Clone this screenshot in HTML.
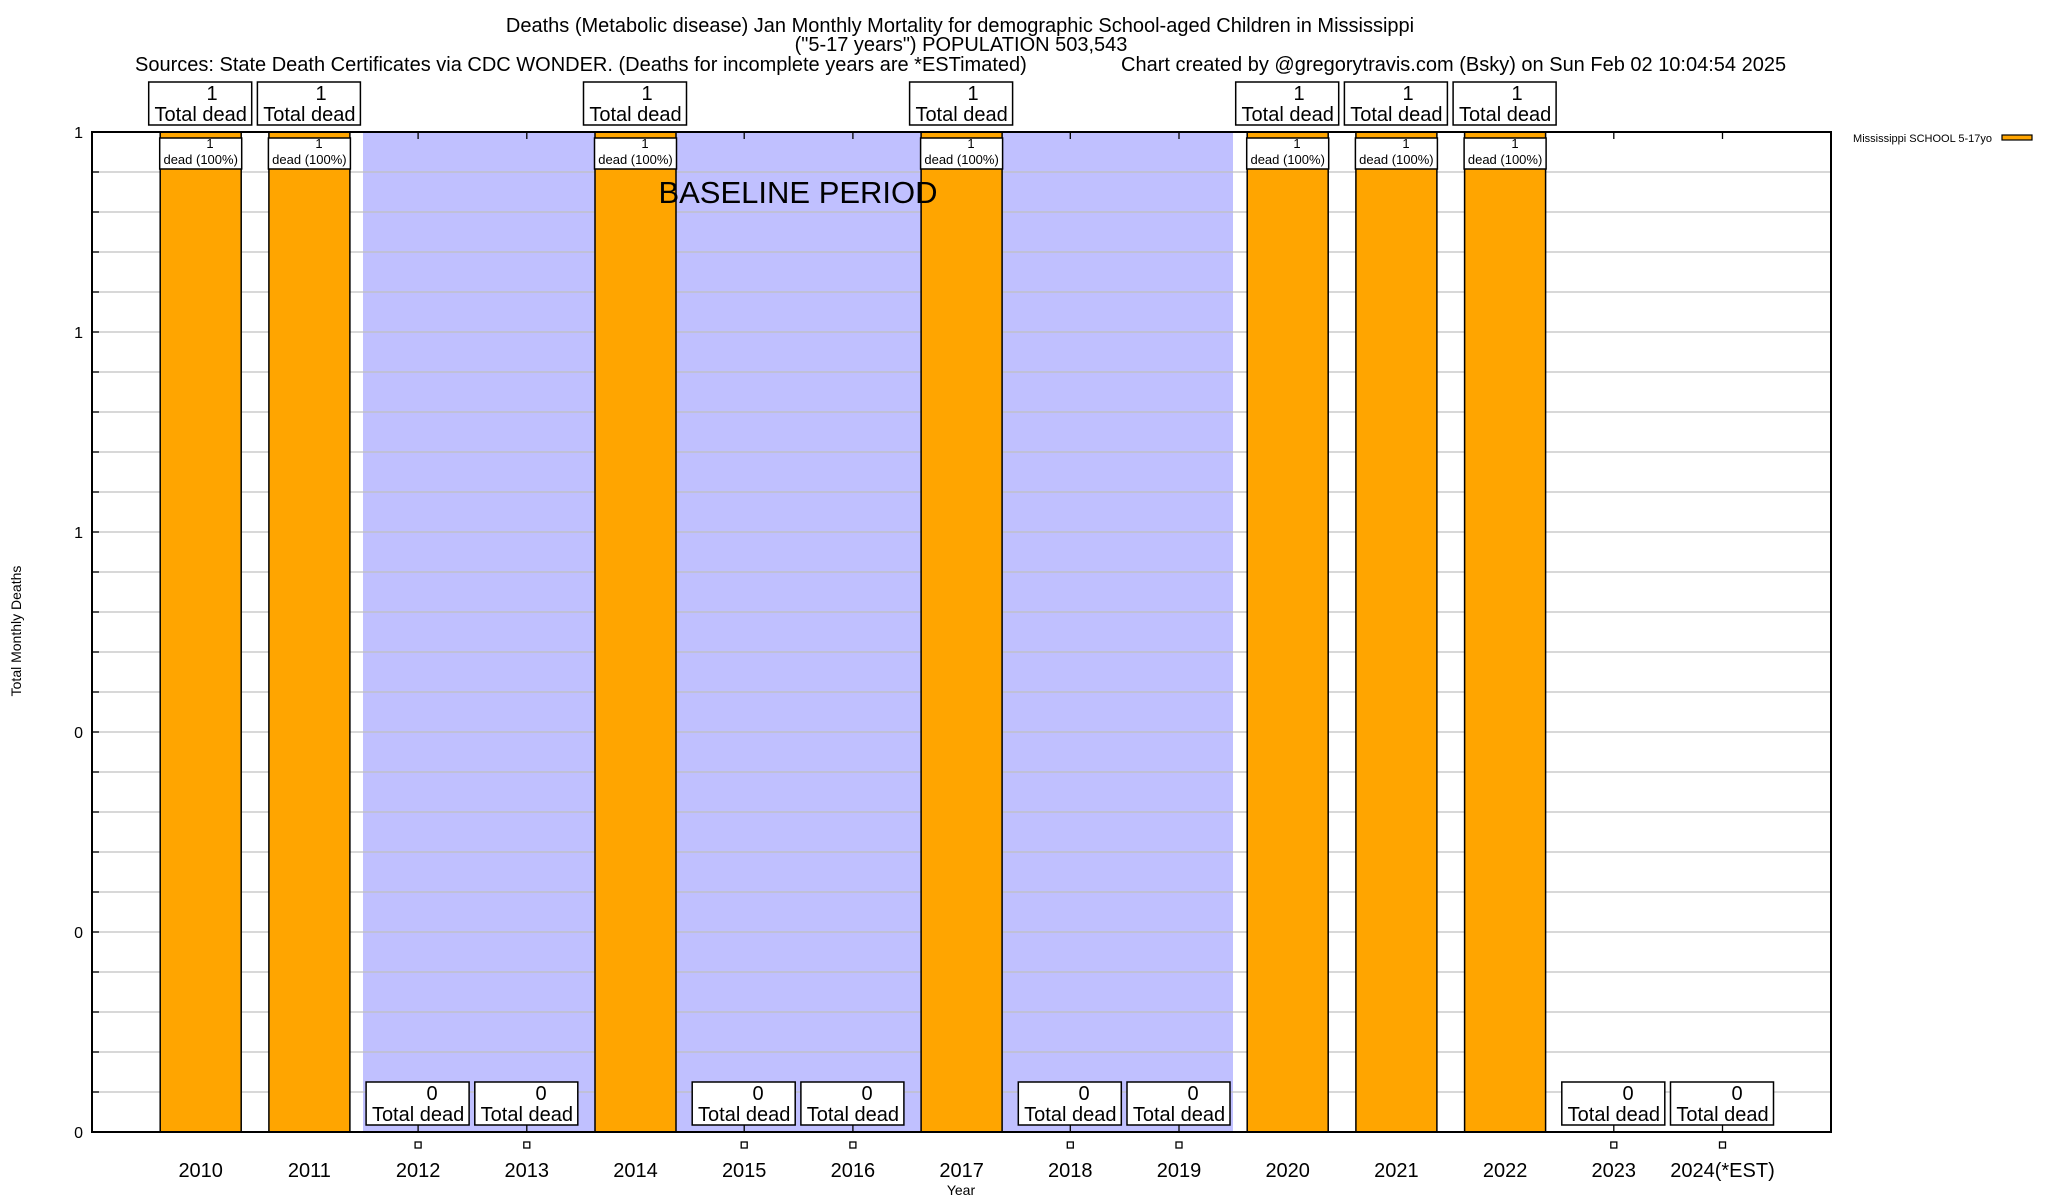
<!DOCTYPE html>
<html><head><meta charset="utf-8"><style>
html,body{margin:0;padding:0;background:#fff;}
svg{display:block;font-family:"Liberation Sans",Arial,sans-serif;}
</style></head><body>
<svg width="2048" height="1200" viewBox="0 0 2048 1200" xmlns="http://www.w3.org/2000/svg">
<rect width="2048" height="1200" fill="#fff"/>
<!-- titles -->
<text x="960" y="32" font-size="20" text-anchor="middle">Deaths (Metabolic disease) Jan Monthly Mortality for demographic School-aged Children in Mississippi</text>
<text x="961" y="51" font-size="20" text-anchor="middle">("5-17 years") POPULATION 503,543</text>
<text x="135" y="71" font-size="20">Sources: State Death Certificates via CDC WONDER. (Deaths for incomplete years are *ESTimated)</text>
<text x="1121" y="71" font-size="20">Chart created by @gregorytravis.com (Bsky) on Sun Feb 02 10:04:54 2025</text>
<!-- blue baseline regions -->
<rect x="363" y="132" width="232" height="1000" fill="#c0c0ff"/>
<rect x="676" y="132" width="245" height="1000" fill="#c0c0ff"/>
<rect x="1002" y="132" width="231" height="1000" fill="#c0c0ff"/>
<!-- gridlines -->
<g stroke="#c0c0c0" stroke-width="1.3">
<line x1="92" x2="1831" y1="172" y2="172"/><line x1="92" x2="1831" y1="212" y2="212"/><line x1="92" x2="1831" y1="252" y2="252"/><line x1="92" x2="1831" y1="292" y2="292"/><line x1="92" x2="1831" y1="332" y2="332"/><line x1="92" x2="1831" y1="372" y2="372"/><line x1="92" x2="1831" y1="412" y2="412"/><line x1="92" x2="1831" y1="452" y2="452"/><line x1="92" x2="1831" y1="492" y2="492"/><line x1="92" x2="1831" y1="532" y2="532"/><line x1="92" x2="1831" y1="572" y2="572"/><line x1="92" x2="1831" y1="612" y2="612"/><line x1="92" x2="1831" y1="652" y2="652"/><line x1="92" x2="1831" y1="692" y2="692"/><line x1="92" x2="1831" y1="732" y2="732"/><line x1="92" x2="1831" y1="772" y2="772"/><line x1="92" x2="1831" y1="812" y2="812"/><line x1="92" x2="1831" y1="852" y2="852"/><line x1="92" x2="1831" y1="892" y2="892"/><line x1="92" x2="1831" y1="932" y2="932"/><line x1="92" x2="1831" y1="972" y2="972"/><line x1="92" x2="1831" y1="1012" y2="1012"/><line x1="92" x2="1831" y1="1052" y2="1052"/><line x1="92" x2="1831" y1="1092" y2="1092"/>
</g>
<!-- bars -->
<g fill="#ffa500" stroke="#000" stroke-width="1.5">
<rect x="160.2" y="132" width="81" height="1000"/>
<rect x="268.9" y="132" width="81" height="1000"/>
<rect x="595" y="132" width="81" height="1000"/>
<rect x="921.1" y="132" width="81" height="1000"/>
<rect x="1247.2" y="132" width="81" height="1000"/>
<rect x="1355.9" y="132" width="81" height="1000"/>
<rect x="1464.6" y="132" width="81" height="1000"/>
</g>
<!-- baseline text -->
<text x="798" y="203" font-size="31" text-anchor="middle">BASELINE PERIOD</text>
<!-- axes -->
<rect x="92" y="132" width="1739" height="1000" fill="none" stroke="#000" stroke-width="2"/>
<g stroke="#000" stroke-width="1.3">
<line x1="92" x2="99" y1="172" y2="172"/><line x1="92" x2="99" y1="212" y2="212"/><line x1="92" x2="99" y1="252" y2="252"/><line x1="92" x2="99" y1="292" y2="292"/><line x1="92" x2="99" y1="332" y2="332"/><line x1="92" x2="99" y1="372" y2="372"/><line x1="92" x2="99" y1="412" y2="412"/><line x1="92" x2="99" y1="452" y2="452"/><line x1="92" x2="99" y1="492" y2="492"/><line x1="92" x2="99" y1="532" y2="532"/><line x1="92" x2="99" y1="572" y2="572"/><line x1="92" x2="99" y1="612" y2="612"/><line x1="92" x2="99" y1="652" y2="652"/><line x1="92" x2="99" y1="692" y2="692"/><line x1="92" x2="99" y1="732" y2="732"/><line x1="92" x2="99" y1="772" y2="772"/><line x1="92" x2="99" y1="812" y2="812"/><line x1="92" x2="99" y1="852" y2="852"/><line x1="92" x2="99" y1="892" y2="892"/><line x1="92" x2="99" y1="932" y2="932"/><line x1="92" x2="99" y1="972" y2="972"/><line x1="92" x2="99" y1="1012" y2="1012"/><line x1="92" x2="99" y1="1052" y2="1052"/><line x1="92" x2="99" y1="1092" y2="1092"/>
<line x1="418.1" x2="418.1" y1="132" y2="139"/><line x1="526.8" x2="526.8" y1="132" y2="139"/><line x1="744.2" x2="744.2" y1="132" y2="139"/><line x1="852.9" x2="852.9" y1="132" y2="139"/><line x1="1070.3" x2="1070.3" y1="132" y2="139"/><line x1="1179" x2="1179" y1="132" y2="139"/><line x1="1613.8" x2="1613.8" y1="132" y2="139"/><line x1="1722.5" x2="1722.5" y1="132" y2="139"/>
</g>
<!-- y labels -->
<g font-size="16" text-anchor="end">
<text x="83" y="138">1</text><text x="83" y="338">1</text><text x="83" y="538">1</text><text x="83" y="738">0</text><text x="83" y="938">0</text><text x="83" y="1138">0</text>
</g>
<text transform="translate(21,631) rotate(-90)" font-size="14" text-anchor="middle">Total Monthly Deaths</text>
<!-- x labels -->
<g font-size="20" text-anchor="middle">
<text x="200.7" y="1177">2010</text><text x="309.4" y="1177">2011</text><text x="418.1" y="1177">2012</text><text x="526.8" y="1177">2013</text><text x="635.5" y="1177">2014</text><text x="744.2" y="1177">2015</text><text x="852.9" y="1177">2016</text><text x="961.6" y="1177">2017</text><text x="1070.3" y="1177">2018</text><text x="1179" y="1177">2019</text><text x="1287.7" y="1177">2020</text><text x="1396.4" y="1177">2021</text><text x="1505.1" y="1177">2022</text><text x="1613.8" y="1177">2023</text><text x="1722.5" y="1177">2024(*EST)</text>
</g>
<text x="961" y="1195" font-size="14" text-anchor="middle">Year</text>
<!-- boxes -->
<g fill="#fff" stroke="#000" stroke-width="1.5">
<rect x="148.7" y="82" width="103" height="43"/><rect x="257.4" y="82" width="103" height="43"/><rect x="583.5" y="82" width="103" height="43"/><rect x="909.6" y="82" width="103" height="43"/><rect x="1235.7" y="82" width="103" height="43"/><rect x="1344.4" y="82" width="103" height="43"/><rect x="1453.1" y="82" width="103" height="43"/>
<rect x="159.7" y="138" width="82" height="31"/><rect x="268.4" y="138" width="82" height="31"/><rect x="594.5" y="138" width="82" height="31"/><rect x="920.6" y="138" width="82" height="31"/><rect x="1246.7" y="138" width="82" height="31"/><rect x="1355.4" y="138" width="82" height="31"/><rect x="1464.1" y="138" width="82" height="31"/>
<rect x="366.1" y="1082" width="103" height="43"/><rect x="474.8" y="1082" width="103" height="43"/><rect x="692.2" y="1082" width="103" height="43"/><rect x="800.9" y="1082" width="103" height="43"/><rect x="1018.3" y="1082" width="103" height="43"/><rect x="1127" y="1082" width="103" height="43"/><rect x="1561.8" y="1082" width="103" height="43"/><rect x="1670.5" y="1082" width="103" height="43"/>
</g>
<g stroke="#000" stroke-width="1.3" fill="#fff">
<line x1="418.1" x2="418.1" y1="1125" y2="1132"/><line x1="526.8" x2="526.8" y1="1125" y2="1132"/><line x1="744.2" x2="744.2" y1="1125" y2="1132"/><line x1="852.9" x2="852.9" y1="1125" y2="1132"/><line x1="1070.3" x2="1070.3" y1="1125" y2="1132"/><line x1="1179" x2="1179" y1="1125" y2="1132"/><line x1="1613.8" x2="1613.8" y1="1125" y2="1132"/><line x1="1722.5" x2="1722.5" y1="1125" y2="1132"/>
<rect x="415.1" y="1142" width="6" height="6"/><rect x="523.8" y="1142" width="6" height="6"/><rect x="741.2" y="1142" width="6" height="6"/><rect x="849.9" y="1142" width="6" height="6"/><rect x="1067.3" y="1142" width="6" height="6"/><rect x="1176" y="1142" width="6" height="6"/><rect x="1610.8" y="1142" width="6" height="6"/><rect x="1719.5" y="1142" width="6" height="6"/>
</g>
<g font-size="20" text-anchor="middle">
<text x="212" y="100">1</text><text x="200.7" y="121">Total dead</text>
<text x="321" y="100">1</text><text x="309.4" y="121">Total dead</text>
<text x="647" y="100">1</text><text x="635.5" y="121">Total dead</text>
<text x="973" y="100">1</text><text x="961.6" y="121">Total dead</text>
<text x="1299" y="100">1</text><text x="1287.7" y="121">Total dead</text>
<text x="1408" y="100">1</text><text x="1396.4" y="121">Total dead</text>
<text x="1517" y="100">1</text><text x="1505.1" y="121">Total dead</text>
<text x="432" y="1100">0</text><text x="418.1" y="1121">Total dead</text>
<text x="541" y="1100">0</text><text x="526.8" y="1121">Total dead</text>
<text x="758" y="1100">0</text><text x="744.2" y="1121">Total dead</text>
<text x="867" y="1100">0</text><text x="852.9" y="1121">Total dead</text>
<text x="1084" y="1100">0</text><text x="1070.3" y="1121">Total dead</text>
<text x="1193" y="1100">0</text><text x="1179" y="1121">Total dead</text>
<text x="1628" y="1100">0</text><text x="1613.8" y="1121">Total dead</text>
<text x="1737" y="1100">0</text><text x="1722.5" y="1121">Total dead</text>
</g>
<g font-size="13" text-anchor="middle">
<text x="210" y="148">1</text><text x="200.7" y="164">dead (100%)</text>
<text x="319" y="148">1</text><text x="309.4" y="164">dead (100%)</text>
<text x="645" y="148">1</text><text x="635.5" y="164">dead (100%)</text>
<text x="971" y="148">1</text><text x="961.6" y="164">dead (100%)</text>
<text x="1297" y="148">1</text><text x="1287.7" y="164">dead (100%)</text>
<text x="1406" y="148">1</text><text x="1396.4" y="164">dead (100%)</text>
<text x="1515" y="148">1</text><text x="1505.1" y="164">dead (100%)</text>
</g>
<!-- legend -->
<text x="1992" y="142" font-size="11" text-anchor="end">Mississippi SCHOOL 5-17yo</text>
<rect x="2002" y="135" width="30" height="5" fill="#ffa500" stroke="#000" stroke-width="1.2"/>
</svg>
</body></html>
